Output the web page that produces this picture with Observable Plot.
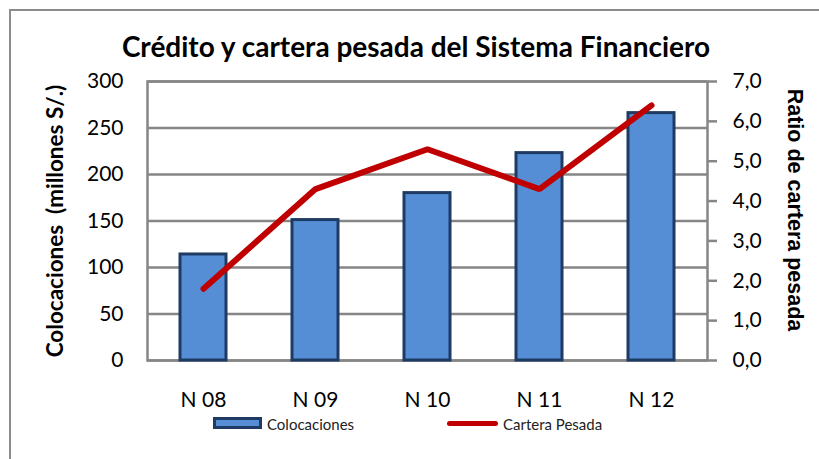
<!DOCTYPE html>
<html><head><meta charset="utf-8">
<script src="https://cdn.jsdelivr.net/npm/d3@7"></script>
<script src="https://cdn.jsdelivr.net/npm/@observablehq/plot@0.6"></script>
<style>
body{margin:0;background:#fff;}
#wrap{position:relative;width:819px;height:459px;overflow:hidden;font-family:Lato,sans-serif;color:#000;}
#border{position:absolute;left:9px;top:9px;width:840px;height:480px;border:2px solid #8c8c8c;box-sizing:border-box;}
#title{position:absolute;left:0;width:832px;top:30px;text-align:center;font-weight:bold;font-size:28px;line-height:32px;white-space:nowrap;}
#plot{position:absolute;left:0;top:0;}
.ylab{position:absolute;font-weight:bold;white-space:nowrap;line-height:24px;}
#ylabL{left:55px;top:221px;font-size:22.5px;transform:translate(-50%,-50%) rotate(-90deg);}
#ylabR{left:795px;top:210px;font-size:21.5px;font-family:"Liberation Sans",Arial,sans-serif;transform:translate(-50%,-50%) rotate(90deg);}
.leg{position:absolute;font-size:15px;line-height:16px;white-space:nowrap;color:#222;}
#swB{position:absolute;left:213px;top:417px;width:49px;height:12px;background:#558ED5;border:3px solid #1F3B64;box-sizing:border-box;}
#swR{position:absolute;left:447px;top:420.5px;width:51px;height:5px;background:#C00000;border-radius:3px;}
</style></head>
<body>
<div id="wrap">
  <div id="border"></div>
  <div id="title">Crédito y cartera pesada del Sistema Financiero</div>
  <div id="plot"></div>
  <div class="ylab" id="ylabL">Colocaciones&nbsp; (millones S/.)</div>
  <div class="ylab" id="ylabR">Ratio de cartera pesada</div>
  <div id="swB"></div><div class="leg" style="left:267px;top:416px;">Colocaciones</div>
  <div id="swR"></div><div class="leg" style="left:503px;top:416px;">Cartera Pesada</div>
</div>
<script>
const categories = ["N 08", "N 09", "N 10", "N 11", "N 12"];
const colocaciones = [114, 151, 180, 223, 266];
const carteraPesada = [1.8, 4.3, 5.3, 4.3, 6.4];
const leftTicks = [0, 50, 100, 150, 200, 250, 300];
const rightTicks = [0, 1, 2, 3, 4, 5, 6, 7];
const leftMax = 300, rightMax = 7;
const k = leftMax / rightMax;

const barData = categories.map((c, i) => ({cat: c, v: colocaciones[i]}));
const lineData = categories.map((c, i) => ({cat: c, r: carteraPesada[i]}));

const chart = Plot.plot({
  width: 819, height: 459,
  marginTop: 81, marginBottom: 99, marginLeft: 147, marginRight: 112,
  style: {fontFamily: "Lato, sans-serif", fontSize: "21px", color: "#000", background: "transparent"},
  x: {domain: categories, paddingInner: 0.59, paddingOuter: 0.295, label: null},
  y: {domain: [0, leftMax], label: null},
  marks: [
    Plot.gridY(leftTicks, {stroke: "#868686", strokeOpacity: 1, strokeWidth: 2.5}),
    Plot.frame({stroke: "#868686", strokeWidth: 2.5}),
    Plot.barY(barData, {x: "cat", y: "v", fill: "#558ED5", stroke: "#1F3B64", strokeWidth: 3}),
    Plot.line(lineData, {x: "cat", y: d => d.r * k, stroke: "#C00000", strokeWidth: 6, strokeLinecap: "round", strokeLinejoin: "miter"}),
    Plot.axisY(leftTicks, {anchor: "left", tickSize: 0, tickPadding: 24, label: null, fontSize: 21}),
    Plot.axisY(rightTicks.map(v => v * k), {anchor: "right", tickSize: 9, tickPadding: 16, stroke: "#868686", strokeWidth: 2.5, fontSize: 21,
      tickFormat: d => (d / k).toFixed(1).replace(".", ","), label: null}),
    Plot.axisX({tickSize: 0, tickPadding: 32, label: null, fontSize: 21})
  ]
});
document.getElementById("plot").appendChild(chart);
</script>
</body></html>
